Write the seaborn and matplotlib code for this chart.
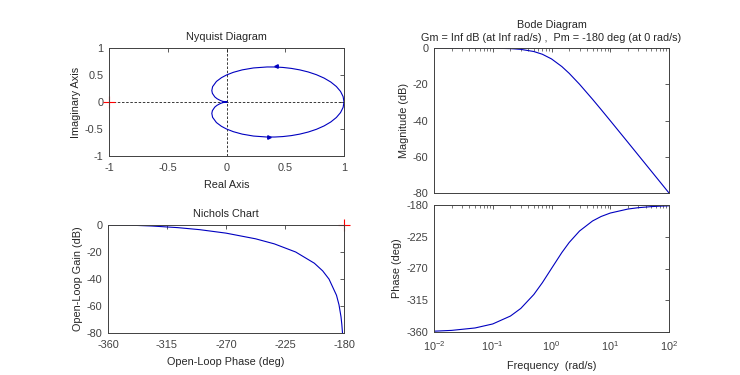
import matplotlib
matplotlib.use("Agg")
import matplotlib.pyplot as plt
import seaborn as sns
import pandas as pd

# frequency samples (rad/s) with read-off magnitude (dB) and phase (deg)
freq = [0.01, 0.02, 0.05, 0.1, 0.2, 0.3, 0.5, 0.7, 1, 1.5, 2, 3,
        5, 7, 10, 20, 30, 50, 70, 100]
mag_db = [0.0, 0.0, -0.02, -0.09, -0.34, -0.75, -1.94, -3.46, -6.02, -10.24,
          -13.98, -20.0, -28.3, -33.98, -40.09, -52.06, -59.09, -67.96, -73.8, -80.0]
phase_deg = [-358.85, -357.71, -354.28, -348.58, -337.38, -326.6, -306.87, -290.03,
             -270.0, -247.38, -233.13, -216.87, -202.62, -196.26, -191.42, -185.72,
             -183.82, -182.29, -181.64, -181.15]

# Nyquist, positive-frequency branch (lower branch is its mirror image)
nyq_re = [1.0, 0.9925, 0.9705, 0.935, 0.8876, 0.8305, 0.7659, 0.6964, 0.6243,
          0.5515, 0.48, 0.4111, 0.346, 0.2297, 0.1338, 0.058, 0.0, -0.043,
          -0.0857, -0.1183, -0.125, -0.12, -0.0999, -0.08, -0.0519, -0.0355,
          -0.0192, -0.0097, 0.0]
nyq_im = [0.0, 0.0995, 0.1961, 0.2869, 0.3698, 0.4429, 0.505, 0.5556, 0.5945,
          0.6224, 0.64, 0.6484, 0.6488, 0.6306, 0.5949, 0.5494, 0.5, 0.4504,
          0.3807, 0.284, 0.2121, 0.16, 0.0951, 0.06, 0.0277, 0.0148, 0.0056,
          0.002, 0.0]

sns.set_theme(style="white")
plt.rcParams['font.family'] = ['Liberation Sans', 'DejaVu Sans']
plt.rcParams['font.size'] = 7.5
plt.rcParams['mathtext.default'] = 'regular'
plt.rcParams['axes.unicode_minus'] = False

BLUE = '#0000c0'
GREY = '#404040'
FS = 7.8

bode = pd.DataFrame({'w': freq, 'mag': mag_db, 'phase': phase_deg})
upper = pd.DataFrame({'re': nyq_re, 'im': nyq_im})
lower = pd.DataFrame({'re': nyq_re[::-1], 'im': [-v for v in nyq_im[::-1]]})
nyq = pd.concat([lower, upper], ignore_index=True)

fig = plt.figure(figsize=(7.4, 3.75), dpi=100)
W, H = 740.0, 375.0


def add_ax(l, t, r, b):
    return fig.add_axes([l / W, 1 - b / H, (r - l) / W, (b - t) / H])


def style(ax):
    for s in ax.spines.values():
        s.set_color(GREY)
        s.set_linewidth(0.7)
    ax.tick_params(direction='in', top=True, right=True, length=3, width=0.6,
                   colors=GREY, labelcolor=GREY, labelsize=FS, pad=4)
    ax.tick_params(axis='x', pad=5)
    ax.tick_params(which='minor', direction='in', top=True, right=True,
                   length=1.8, width=0.5, colors=GREY)


def curve(data, x, y, ax):
    sns.lineplot(data=data, x=x, y=y, sort=False, estimator=None, errorbar=None,
                 color=BLUE, lw=0.8, ax=ax)


ax_nyq = add_ax(109, 48, 344, 156)
ax_nic = add_ax(108, 225, 344, 333)
ax_mag = add_ax(434, 48, 669, 193)
ax_ph = add_ax(434, 205, 669, 332)

# Nyquist
ax_nyq.axhline(0, color='k', ls='--', lw=0.6, dashes=(3, 2))
ax_nyq.axvline(0, color='k', ls='--', lw=0.6, dashes=(3, 2))
curve(nyq, 're', 'im', ax_nyq)
ax_nyq.plot([0.42], [0.66], marker='<', ms=2.5, color=BLUE)
ax_nyq.plot([0.36], [-0.64], marker='>', ms=2.5, color=BLUE)
ax_nyq.plot([-0.03, 0], [0, 0], color=BLUE, lw=1.2)
ax_nyq.plot([-1], [0], marker='+', ms=8, color='red', mew=0.8, clip_on=False)
ax_nyq.set_xlim(-1, 1)
ax_nyq.set_ylim(-1, 1)
ax_nyq.set_xticks([-1, -0.5, 0, 0.5, 1])
ax_nyq.set_xticklabels(['-1', '-0.5', '0', '0.5', '1'])
ax_nyq.set_yticks([-1, -0.5, 0, 0.5, 1])
ax_nyq.set_yticklabels(['-1', '-0.5', '0', '0.5', '1'])
ax_nyq.set_title('Nyquist Diagram', fontsize=FS, pad=6)
ax_nyq.set_xlabel('Real Axis', fontsize=FS, labelpad=5)
ax_nyq.set_ylabel('Imaginary Axis', fontsize=FS, labelpad=3)
style(ax_nyq)

# Nichols
curve(bode, 'phase', 'mag', ax_nic)
ax_nic.plot([-180], [0], marker='+', ms=8, color='red', mew=0.8, clip_on=False)
ax_nic.set_xlim(-360, -180)
ax_nic.set_ylim(-80, 0)
ax_nic.set_xticks([-360, -315, -270, -225, -180])
ax_nic.set_yticks([-80, -60, -40, -20, 0])
ax_nic.set_title('Nichols Chart', fontsize=FS, pad=6)
ax_nic.set_xlabel('Open-Loop Phase (deg)', fontsize=FS, labelpad=5)
ax_nic.set_ylabel('Open-Loop Gain (dB)', fontsize=FS, labelpad=3)
style(ax_nic)

# Bode magnitude
curve(bode, 'w', 'mag', ax_mag)
ax_mag.set_xscale('log')
ax_mag.set_xlim(0.01, 100)
ax_mag.set_ylim(-80, 0)
ax_mag.set_yticks([-80, -60, -40, -20, 0])
ax_mag.set_xlabel('')
ax_mag.set_ylabel('Magnitude (dB)', fontsize=FS, labelpad=3)
ax_mag.set_title('Bode Diagram\nGm = Inf dB (at Inf rad/s) ,  Pm = -180 deg (at 0 rad/s)',
                 fontsize=FS, pad=5, linespacing=1.4)
style(ax_mag)
ax_mag.tick_params(labelbottom=False, which='both')

# Bode phase
curve(bode, 'w', 'phase', ax_ph)
ax_ph.set_xscale('log')
ax_ph.set_xlim(0.01, 100)
ax_ph.set_ylim(-360, -180)
ax_ph.set_yticks([-360, -315, -270, -225, -180])
ax_ph.set_xticks([0.01, 0.1, 1, 10, 100])
ax_ph.set_xticklabels(['$10^{-2}$', '$10^{-1}$', '$10^{0}$', '$10^{1}$', '$10^{2}$'],
                      fontsize=8.5)
ax_ph.set_xlabel('Frequency  (rad/s)', fontsize=FS, labelpad=6)
ax_ph.set_ylabel('Phase (deg)', fontsize=FS, labelpad=3)
style(ax_ph)

fig.savefig('out.png', dpi=100, facecolor='white')
